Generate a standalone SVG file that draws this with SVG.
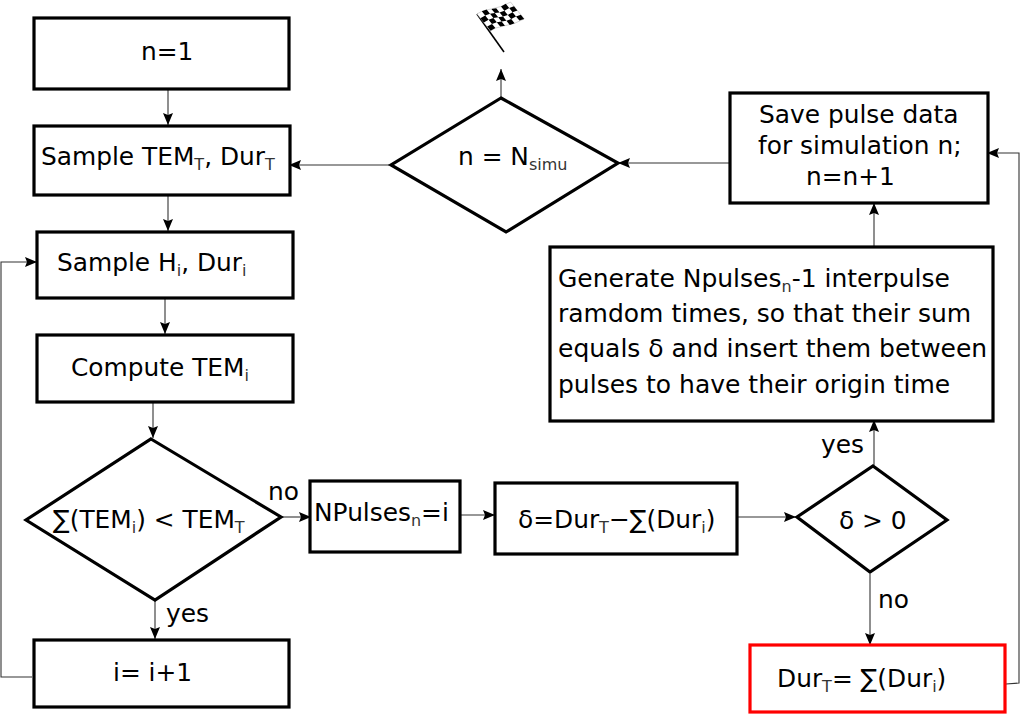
<svg xmlns="http://www.w3.org/2000/svg" width="1020" height="715" viewBox="0 0 1020 715">
<style>
text{font-family:"DejaVu Sans",sans-serif;font-size:24.85px;fill:#000}
.big text{font-size:25px}
.s{fill:#fff;stroke:#000;stroke-width:3.2;stroke-linejoin:miter}
.r{fill:#fff;stroke:#f00;stroke-width:3.2}
.c{fill:none;stroke:#333;stroke-width:1.1;marker-end:url(#a)}
.sub{font-size:16px;fill:#333}
</style>
<defs>
<marker id="a" markerUnits="userSpaceOnUse" markerWidth="13" markerHeight="10" refX="12" refY="5" orient="auto" viewBox="0 0 13 10"><path d="M0 0L12 5L0 10L2 5Z" fill="#000"/></marker>
</defs>
<rect width="1020" height="715" fill="#fff"/>
<g id="connectors">
<path class="c" d="M168 90V125"/>
<path class="c" d="M168 196V231"/>
<path class="c" d="M165 299V334"/>
<path class="c" d="M153 403V438"/>
<path class="c" d="M155 601V639"/>
<path class="c" d="M282 517H311"/>
<path class="c" d="M461 515H495"/>
<path class="c" d="M738 517H796"/>
<path class="c" d="M870 574V645"/>
<path class="c" d="M874 465V420"/>
<path class="c" d="M874 247V203"/>
<path class="c" d="M729 163H618"/>
<path class="c" d="M389 165H289"/>
<path class="c" d="M501 97V69"/>
<path class="c" d="M32 677H1V262H37"/>
<path class="c" d="M1006 684L1019 683V153H987"/>
</g>
<g id="start"><rect class="s" x="34" y="18" width="255" height="71"/><text x="141" y="60">n=1</text></g>
<g id="sample-tem"><rect class="s" x="34" y="126" width="256" height="69"/><text x="41" y="165">Sample TEM<tspan class="sub" dy="5">T</tspan><tspan dy="-5">, Dur</tspan><tspan class="sub" dy="5">T</tspan></text></g>
<g id="sample-h"><rect class="s" x="37" y="232" width="256" height="66"/><text x="57" y="271">Sample H<tspan class="sub" dy="5">i</tspan><tspan dy="-5">, Dur</tspan><tspan class="sub" dy="5">i</tspan></text></g>
<g id="compute"><rect class="s" x="37" y="335" width="256" height="67"/><text x="71" y="376">Compute TEM<tspan class="sub" dy="5">i</tspan></text></g>
<g id="sum-test"><path class="s" d="M151 439L281 517L155 600L26 520Z"/><text x="53" y="528">∑(TEM<tspan class="sub" dy="5">i</tspan><tspan dy="-5">) &lt; TEM</tspan><tspan class="sub" dy="5">T</tspan></text></g>
<text x="268" y="500">no</text>
<text x="166" y="622">yes</text>
<g id="increment"><rect class="s" x="34" y="640" width="255" height="67"/><text x="113" y="681">i= i+1</text></g>
<g id="npulses"><rect class="s" x="310" y="481" width="150" height="71"/><text x="314" y="521">NPulses<tspan class="sub" dy="5">n</tspan><tspan dy="-5">=i</tspan></text></g>
<g id="delta"><rect class="s" x="495" y="483" width="242" height="71"/><text x="518" y="528">δ=Dur<tspan class="sub" dy="5">T</tspan><tspan dy="-5">−∑(Dur</tspan><tspan class="sub" dy="5">i</tspan><tspan dy="-5">)</tspan></text></g>
<g id="delta-test"><path class="s" d="M873 466L947 520L870 572L797 517Z"/><text x="839" y="529">δ &gt; 0</text></g>
<text x="821" y="453">yes</text>
<text x="878" y="608">no</text>
<g id="dur"><rect class="r" x="750" y="645" width="255" height="67"/><text x="777" y="687">Dur<tspan class="sub" dy="5">T</tspan><tspan dy="-5">= ∑(Dur</tspan><tspan class="sub" dy="5">i</tspan><tspan dy="-5">)</tspan></text></g>
<g id="generate" class="big"><rect class="s" x="550" y="247" width="443" height="174"/>
<text x="558" y="287">Generate Npulses<tspan class="sub" dy="5">n</tspan><tspan dy="-5">-1 interpulse</tspan></text>
<text x="558" y="322">ramdom times, so that their sum</text>
<text x="558" y="357">equals δ and insert them between</text>
<text x="558" y="393">pulses to have their origin time</text></g>
<g id="save"><rect class="s" x="730" y="93" width="258" height="110"/>
<text x="759" y="123">Save pulse data</text>
<text x="758" y="154">for simulation n;</text>
<text x="806" y="185">n=n+1</text></g>
<g id="n-test"><path class="s" d="M501 98L618 163L506 232L391 165Z"/><text x="458" y="165">n = N<tspan class="sub" dy="5">simu</tspan></text></g>
<g id="flag">
<path d="M477 14L504 52" stroke="#000" stroke-width="1.6" fill="none"/>
<path d="M477 14L481.800 11.300L491.400 8.900L501 6.500L510.600 2.100L524.200 18.900L514.600 23.300L505 25.700L495.400 28.100L490.600 30.800Z" fill="#fff" stroke="#aaa" stroke-width=".5"/>
<path d="M481.800 11.300L486.600 9.600L490 13.800L485.200 15.500ZM491.400 8.900L496.200 8.200L499.600 12.400L494.800 13.100ZM501 6.500L505.800 3.800L509.200 8L504.400 10.700ZM480.400 18.200L485.200 15.500L488.600 19.700L483.800 22.400ZM490 13.800L494.800 13.100L498.200 17.300L493.400 18ZM499.600 12.400L504.400 10.700L507.800 14.900L503 16.600ZM509.200 8L514 6.300L517.400 10.500L512.600 12.200ZM488.600 19.700L493.400 18L496.800 22.200L492 23.900ZM498.200 17.300L503 16.600L506.400 20.800L501.600 21.500ZM507.800 14.900L512.600 12.200L516 16.400L511.200 19.100ZM487.200 26.600L492 23.900L495.400 28.100L490.600 30.800ZM496.800 22.200L501.600 21.500L505 25.700L500.200 26.400ZM506.400 20.800L511.200 19.100L514.600 23.300L509.800 25ZM516 16.400L520.800 14.700L524.200 18.900L519.400 20.600Z" fill="#000"/>
</g>
</svg>
